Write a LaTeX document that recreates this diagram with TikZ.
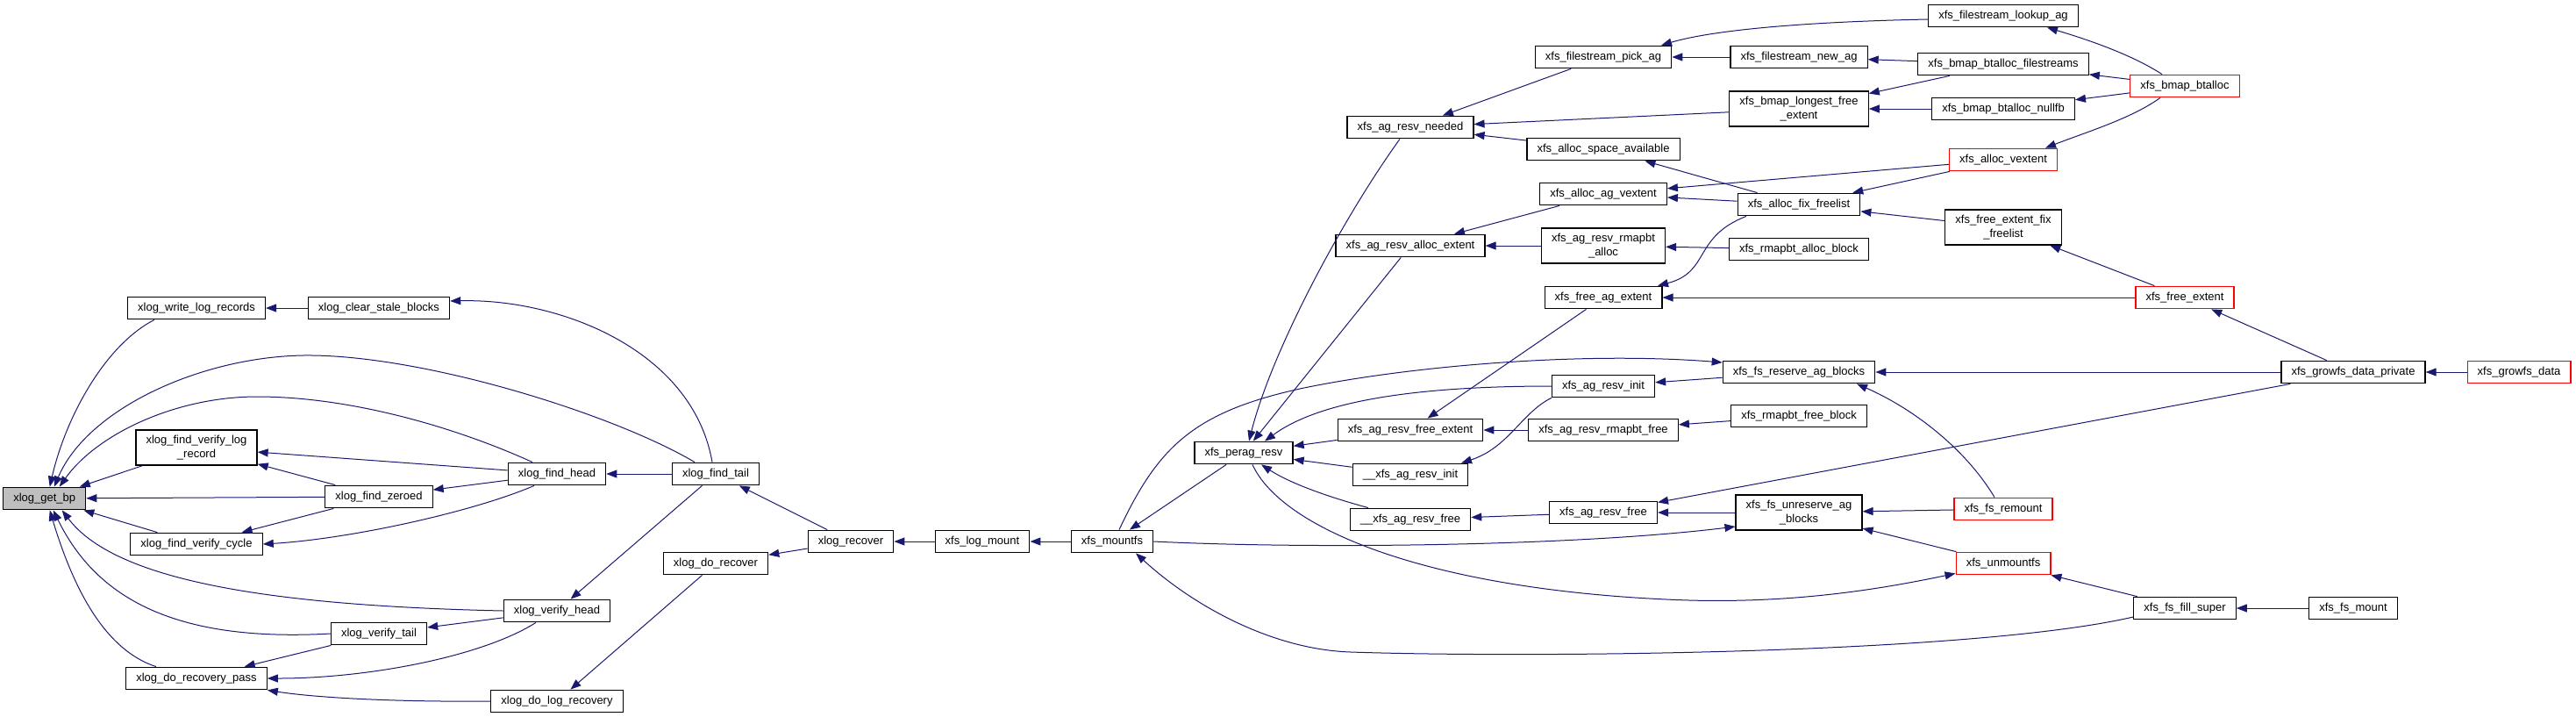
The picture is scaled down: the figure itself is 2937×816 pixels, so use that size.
\documentclass[tikz,border=0pt]{standalone}
\usepackage{fontspec}
\setmainfont{Liberation Sans}
\usetikzlibrary{arrows.meta}
\definecolor{edgeblue}{HTML}{191970}
\tikzset{
  fn/.style={draw=black, line width=0.6pt, fill=white, inner xsep=5.8pt, inner ysep=1pt,
    minimum height=12.8pt, align=center, font=\fontsize{6.5}{7.6}\selectfont},
  fntwo/.style={fn, minimum height=20pt},
  fnred/.style={fn, draw=red},
  fnroot/.style={fn, fill=black!25},
  call/.style={edgeblue, line width=0.5pt, -{Triangle[length=6pt,width=4.5pt]}}
}

\begin{document}
\begin{tikzpicture}[x=0.5pt, y=-0.5pt]
\useasboundingbox (0,0) rectangle (2937,816);

\node[fnroot] (getbp) at (50.75,568) {xlog\_get\_bp};
\node[fn] (writerec) at (224,351) {xlog\_write\_log\_records};
\node[fn] (clearstale) at (432,351) {xlog\_clear\_stale\_blocks};
\node[fntwo] (findvlog) at (224,510) {xlog\_find\_verify\_log\\\_record};
\node[fn] (findhead) at (635,540) {xlog\_find\_head};
\node[fn] (findzero) at (432,566) {xlog\_find\_zeroed};
\node[fn] (findcycle) at (224,620) {xlog\_find\_verify\_cycle};
\node[fn] (verhead) at (635,696) {xlog\_verify\_head};
\node[fn] (vertail) at (432,722) {xlog\_verify\_tail};
\node[fn] (recpass) at (224,773) {xlog\_do\_recovery\_pass};
\node[fn] (logrecov) at (635,799) {xlog\_do\_log\_recovery};
\node[fn] (findtail) at (816,540) {xlog\_find\_tail};
\node[fn] (dorecover) at (816,642) {xlog\_do\_recover};
\node[fn] (recover) at (970,617) {xlog\_recover};
\node[fn] (logmount) at (1120,617) {xfs\_log\_mount};
\node[fn] (mountfs) at (1268,617) {xfs\_mountfs};
\node[fn] (peragresv) at (1418,516) {xfs\_perag\_resv};

\node[fn] (resvneeded) at (1608,145) {xfs\_ag\_resv\_needed};
\node[fn] (resvallocext) at (1608,280) {xfs\_ag\_resv\_alloc\_extent};
\node[fn] (resvfreeext) at (1608,490) {xfs\_ag\_resv\_free\_extent};
\node[fn] (uinit) at (1608,541) {\_\_xfs\_ag\_resv\_init};
\node[fn] (ufree) at (1608,592) {\_\_xfs\_ag\_resv\_free};

\node[fn] (pickag) at (1828,65) {xfs\_filestream\_pick\_ag};
\node[fn] (spaceavail) at (1828,170) {xfs\_alloc\_space\_available};
\node[fn] (agvextent) at (1828,221) {xfs\_alloc\_ag\_vextent};
\node[fntwo] (rmapalloc) at (1828,280) {xfs\_ag\_resv\_rmapbt\\\_alloc};
\node[fn] (freeagext) at (1828,339) {xfs\_free\_ag\_extent};
\node[fn] (resvinit) at (1828,440) {xfs\_ag\_resv\_init};
\node[fn] (rmapfree) at (1828,490) {xfs\_ag\_resv\_rmapbt\_free};
\node[fn] (resvfree) at (1828,584) {xfs\_ag\_resv\_free};

\node[fn] (newag) at (2051,65) {xfs\_filestream\_new\_ag};
\node[fntwo] (longestfree) at (2051,124) {xfs\_bmap\_longest\_free\\\_extent};
\node[fn] (fixfreelist) at (2051,233) {xfs\_alloc\_fix\_freelist};
\node[fn] (rmapallocblk) at (2051,284) {xfs\_rmapbt\_alloc\_block};
\node[fn] (reserveag) at (2051,424) {xfs\_fs\_reserve\_ag\_blocks};
\node[fn] (rmapfreeblk) at (2051,474) {xfs\_rmapbt\_free\_block};
\node[fntwo] (unreserveag) at (2051,584) {xfs\_fs\_unreserve\_ag\\\_blocks};

\node[fn] (lookupag) at (2284,18) {xfs\_filestream\_lookup\_ag};
\node[fn] (btfilestreams) at (2284,73) {xfs\_bmap\_btalloc\_filestreams};
\node[fn] (btnullfb) at (2284,124) {xfs\_bmap\_btalloc\_nullfb};
\node[fnred] (allocvextent) at (2284,182) {xfs\_alloc\_vextent};
\node[fnred, fntwo] (freefix) at (2284,259) {xfs\_free\_extent\_fix\\\_freelist};
\node[fnred] (remount) at (2284,580) {xfs\_fs\_remount};
\node[fnred] (unmountfs) at (2284,642) {xfs\_unmountfs};

\node[fnred] (btalloc) at (2491,98) {xfs\_bmap\_btalloc};
\node[fnred] (freeextent) at (2491,339) {xfs\_free\_extent};
\node[fn] (fillsuper) at (2491,693) {xfs\_fs\_fill\_super};
\node[fn] (growpriv) at (2683,424) {xfs\_growfs\_data\_private};
\node[fn] (fsmount) at (2683,693) {xfs\_fs\_mount};
\node[fnred] (growfs) at (2872,424) {xfs\_growfs\_data};

\draw[call] ([xshift=-24pt]writerec.south) .. controls (120,393) and (75,475) .. ([xshift=3pt]getbp.north);
\draw[call] ([xshift=-12pt]findtail.north) .. controls (700,472) and (480,403) .. (345,405) .. controls (230,407) and (100,465) .. ([xshift=5.5pt]getbp.north);
\draw[call] ([xshift=-14pt]findhead.north) .. controls (520,487) and (400,452) .. (293,452) .. controls (200,452) and (110,495) .. ([xshift=8.5pt]getbp.north);
\draw[call] (findvlog) -- (getbp);
\draw[call] (findzero) -- (getbp);
\draw[call] (findcycle) -- (getbp);
\draw[call] (verhead.west) .. controls (300,690) and (130,660) .. ([xshift=10pt]getbp.south);
\draw[call] (vertail.west) .. controls (200,732) and (110,682) .. ([xshift=5pt]getbp.south);
\draw[call] ([xshift=-23pt]recpass.north) .. controls (130,744) and (90,692) .. ([xshift=3pt]getbp.south);

\draw[call] (clearstale) -- (writerec);
\draw[call] ([xshift=-2pt]findtail.north) .. controls (790,400) and (640,340) .. ([yshift=4pt]clearstale.east);
\draw[call] (findhead) -- (findvlog);
\draw[call] (findzero) -- (findvlog);
\draw[call] (findhead) -- (findzero);
\draw[call] (findzero) -- (findcycle);
\draw[call] ([xshift=-13pt]findhead.south) .. controls (540,583) and (400,614) .. (findcycle.east);
\draw[call] (findtail) -- (findhead);
\draw[call] (findtail) -- (verhead);
\draw[call] (verhead) -- (vertail);
\draw[call] (vertail) -- (recpass);
\draw[call] ([xshift=-12pt]verhead.south) .. controls (550,748) and (420,773) .. (recpass.east);
\draw[call] (logrecov.west) .. controls (450,800) and (360,795) .. (recpass.south east);
\draw[call] (dorecover) -- (logrecov);
\draw[call] (recover) -- (findtail);
\draw[call] (recover) -- (dorecover);
\draw[call] (logmount) -- (recover);
\draw[call] (mountfs) -- (logmount);
\draw[call] (peragresv) -- (mountfs);
\draw[call] ([yshift=-5pt]fillsuper.west) .. controls (2250,745) and (1750,750) .. (1540,743) .. controls (1450,740) and (1360,690) .. ([xshift=13.5pt]mountfs.south);
\draw[call] ([xshift=4pt]mountfs.north) .. controls (1320,510) and (1360,470) .. (1482,443) .. controls (1600,418) and (1800,400) .. ([yshift=5.5pt]reserveag.west);
\draw[call] (mountfs.east) .. controls (1500,626) and (1800,622) .. ([yshift=-8pt]unreserveag.west);

\draw[call] ([xshift=-6pt]resvneeded.south) .. controls (1530,250) and (1450,400) .. ([xshift=3pt]peragresv.north);
\draw[call] (resvallocext) -- (peragresv);
\draw[call] (resvinit.west) .. controls (1600,440) and (1500,460) .. ([xshift=12pt]peragresv.north);
\draw[call] (resvfreeext) -- (peragresv);
\draw[call] (uinit) -- (peragresv);
\draw[call] ([xshift=-24pt]ufree.north) .. controls (1510,565) and (1470,550) .. ([xshift=10pt]peragresv.south);
\draw[call] ([xshift=5pt]peragresv.south) .. controls (1460,600) and (1620,670) .. (1900,683) .. controls (2040,690) and (2150,670) .. ([yshift=1pt]unmountfs.south west);

\draw[call] (fillsuper) -- (unmountfs);
\draw[call] (fsmount) -- (fillsuper);
\draw[call] (unmountfs) -- (unreserveag);
\draw[call] (remount) -- (unreserveag);
\draw[call] ([xshift=-5pt]remount.north) .. controls (2240,510) and (2180,465) .. ([xshift=33pt]reserveag.south);
\draw[call] (growpriv) -- (reserveag);
\draw[call] (growpriv) -- (resvfree);
\draw[call] (growfs) -- (growpriv);
\draw[call] (growpriv) -- (freeextent);
\draw[call] (freeextent) -- (freeagext);
\draw[call] (freeextent) -- (freefix);
\draw[call] (freefix) -- (fixfreelist);
\draw[call] (allocvextent) -- (fixfreelist);
\draw[call] (allocvextent) -- (agvextent);
\draw[call] (fixfreelist) -- (agvextent);
\draw[call] (fixfreelist) -- (spaceavail);
\draw[call] ([xshift=-30pt]fixfreelist.south) .. controls (1930,270) and (1950,310) .. ([xshift=31pt]freeagext.north);
\draw[call] ([xshift=-14pt]btalloc.south) .. controls (2430,135) and (2380,150) .. ([xshift=24pt]allocvextent.north);
\draw[call] ([xshift=-13pt]btalloc.north) .. controls (2430,62) and (2380,45) .. ([xshift=25pt]lookupag.south);
\draw[call] (btalloc) -- (btfilestreams);
\draw[call] (btalloc) -- (btnullfb);
\draw[call] ([yshift=-2pt]lookupag.west) .. controls (2050,25) and (1950,35) .. ([xshift=33pt]pickag.north);
\draw[call] (newag) -- (pickag);
\draw[call] (btfilestreams) -- (newag);
\draw[call] (btfilestreams) -- (longestfree);
\draw[call] (btnullfb) -- (longestfree);
\draw[call] (pickag) -- (resvneeded);
\draw[call] (longestfree) -- (resvneeded);
\draw[call] (spaceavail) -- (resvneeded);
\draw[call] (agvextent) -- (resvallocext);
\draw[call] (rmapalloc) -- (resvallocext);
\draw[call] (rmapallocblk) -- (rmapalloc);
\draw[call] (freeagext) -- (resvfreeext);
\draw[call] (rmapfree) -- (resvfreeext);
\draw[call] (rmapfreeblk) -- (rmapfree);
\draw[call] (reserveag) -- (resvinit);
\draw[call] (resvinit.south west) .. controls (1735,470) and (1720,510) .. ([xshift=29pt]uinit.north);
\draw[call] (resvfree) -- (ufree);
\draw[call] (unreserveag) -- (resvfree);
\end{tikzpicture}
\end{document}
